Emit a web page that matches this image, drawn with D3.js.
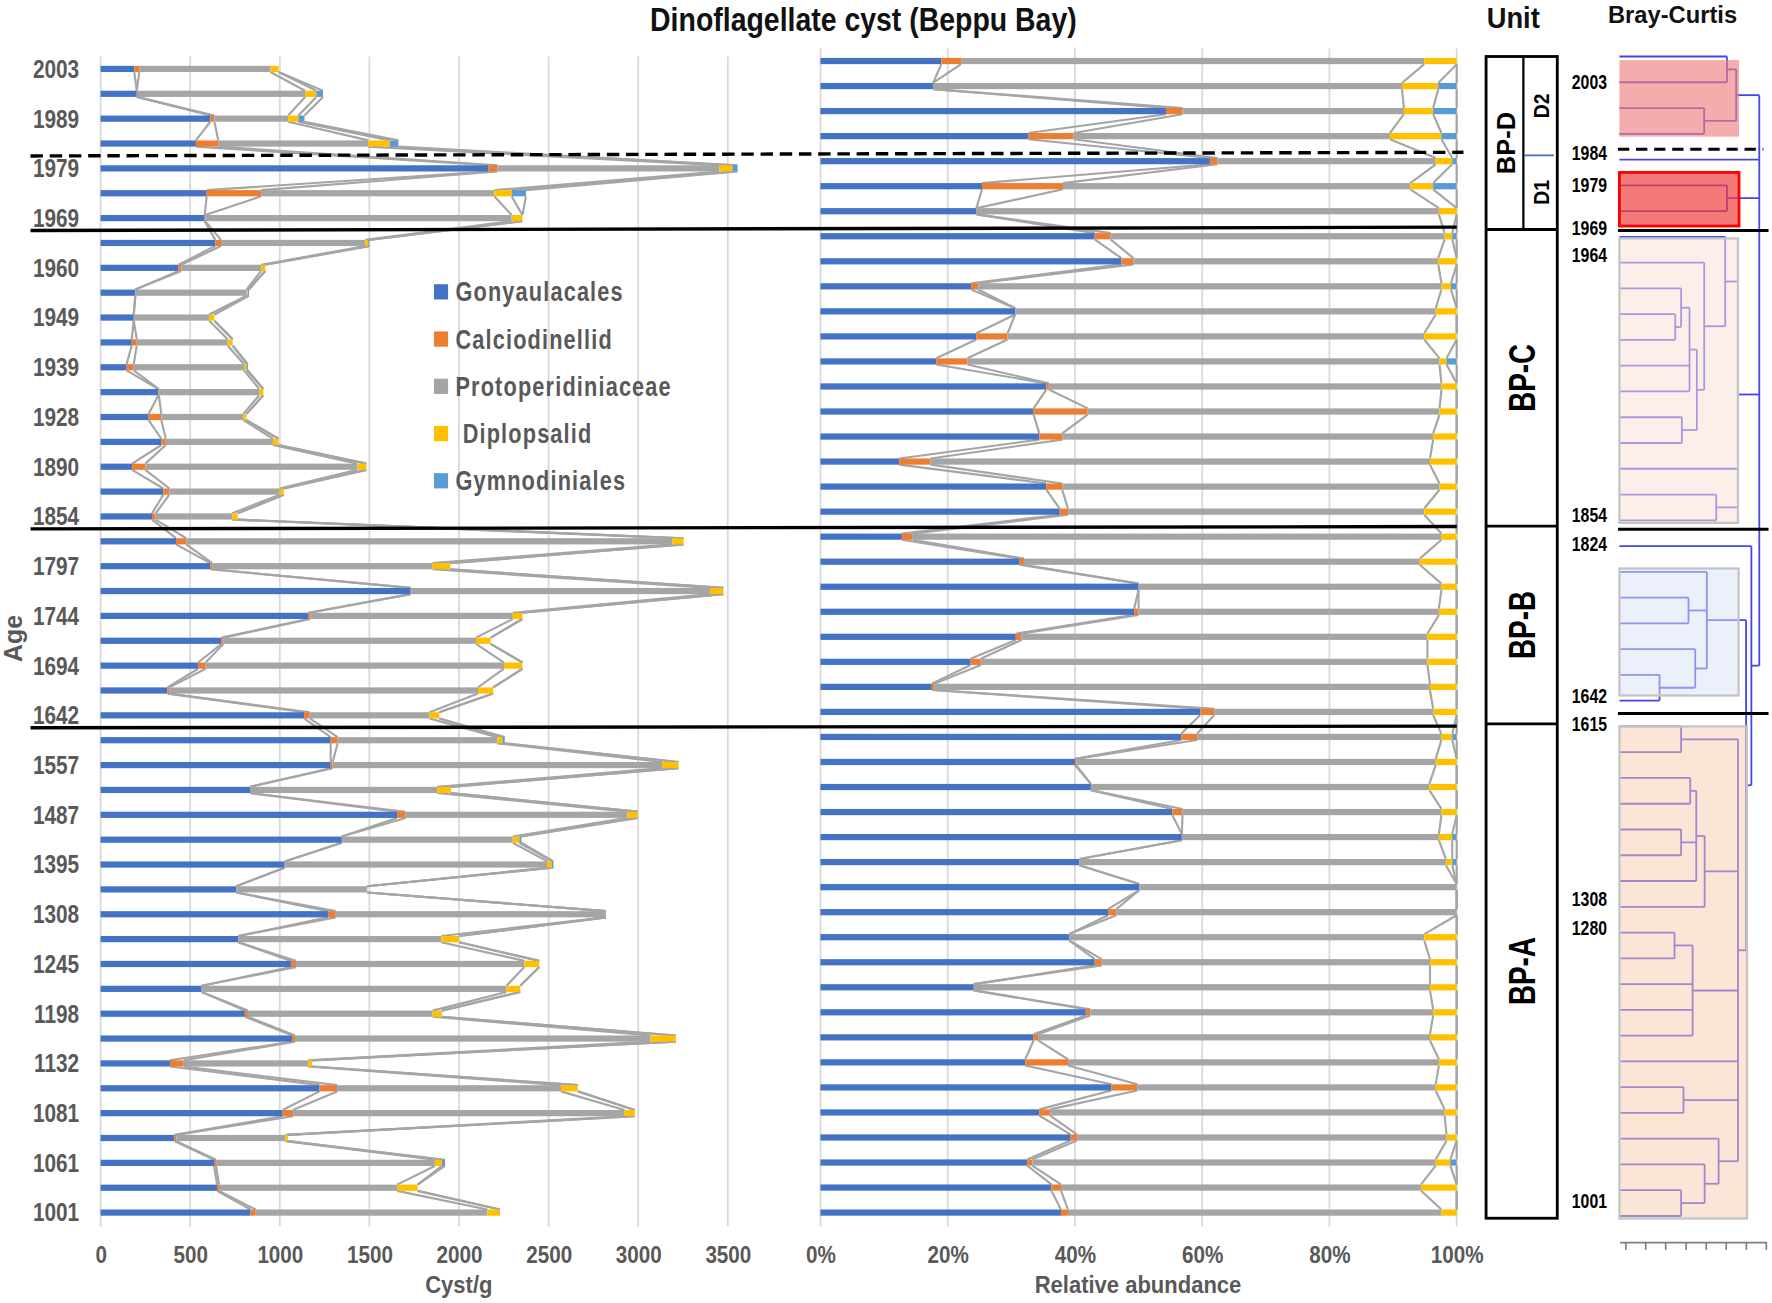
<!DOCTYPE html>
<html><head><meta charset="utf-8">
<script src="https://cdn.jsdelivr.net/npm/d3@7"></script>
<style>
html,body{margin:0;padding:0;background:#fff;}
svg{display:block;}
text{font-family:"Liberation Sans",Arial,Helvetica,sans-serif;font-weight:bold;}
</style></head><body>
<svg id="chart" width="1772" height="1303" viewBox="0 0 1568 1153"></svg>
<script>
// ---------------- DATA ----------------
const seriesNames = ["Gonyaulacales","Calciodinellid","Protoperidiniaceae","Diplopsalid","Gymnodiniales"];
const legendLabels = ["Gonyaulacales","Calciodinellid","Protoperidiniaceae"," Diplopsalid","Gymnodiniales"];
const ageLabels = ["2003","","1989","","1979","","1969","","1960","","1949","","1939","","1928","","1890","","1854","",
  "1797","","1744","","1694","","1642","","1557","","1487","","1395","","1308","","1245","","1198","","1132","",
  "1081","","1061","","1001"];
// Cyst/g
const gonyaulacales = [188,202,612,532,2163,592,581,640,435,194,185,174,145,322,268,339,176,350,287,421,612,1730,1158,675,544,373,1136,1284,1284,834,1654,1346,1027,757,1269,768,1062,564,805,1070,387,1221,1016,412,633,650,837];
const calciodinellid = [28,0,23,125,51,304,3,32,15,0,0,28,40,3,71,25,74,34,20,57,11,0,12,11,42,11,31,39,11,0,48,0,0,0,43,0,28,0,17,15,77,99,57,11,11,11,29];
const protoperidiniaceae = [732,939,412,837,1238,1301,1710,805,446,620,421,507,615,560,458,598,1182,615,427,2712,1230,1671,1130,1409,1665,1722,669,891,1838,1044,1238,954,1466,731,1508,1133,1275,1701,1031,1983,694,1249,1851,608,1221,994,1292];
const diplopsalid = [45,63,57,120,74,97,60,17,23,6,29,28,15,23,17,31,51,23,32,63,99,74,54,82,103,85,54,29,92,77,57,37,26,0,0,100,83,77,51,142,23,94,57,14,40,114,71];
const gymnodiniales = [0,37,34,48,29,80,0,6,0,8,0,0,7,0,0,0,0,0,0,0,0,0,0,0,0,0,0,12,0,0,0,11,8,0,0,0,0,0,0,0,0,0,0,0,17,0,0];
// Relative abundance (%)
const gonyPct = [19.0,17.7,54.3,32.7,61.2,25.4,24.5,43.1,47.3,23.7,30.6,24.5,18.2,35.5,33.5,34.4,12.4,35.5,37.6,12.8,31.3,50.0,49.3,30.7,23.6,17.5,59.7,56.7,40.0,42.5,55.3,56.8,40.7,50.1,45.2,39.1,43.1,24.1,41.7,33.5,32.2,45.7,34.4,39.3,32.5,36.3,37.8];
const calcPct = [3.1,0,2.6,7.1,1.2,12.7,0.1,2.5,1.9,1.1,0,4.9,4.9,0.4,8.5,3.6,4.9,2.5,1.3,1.7,0.7,0,0.7,0.9,1.6,0.4,2.2,2.5,0.2,0,1.6,0,0,0,1.3,0,1.1,0,0.7,0.7,6.7,4.1,1.7,1.0,0.8,1.5,1.1];
const protoPct = [72.8,73.7,34.8,49.7,34.3,54.6,72.6,52.5,47.9,72.8,66.1,65.5,74.2,61.7,55.3,58.3,78.5,59.3,56.0,83.1,62.2,47.6,47.2,63.8,70.2,77.9,34.4,38.4,56.5,53.2,40.7,40.4,57.6,49.9,53.5,55.8,51.6,71.7,53.9,61.6,58.3,46.9,62.0,58.1,63.4,56.6,58.7];
const diploPct = [5.1,5.7,4.6,8.1,2.6,3.6,2.8,1.2,2.9,1.5,3.3,5.1,1.1,2.4,2.7,3.7,4.2,2.7,5.1,2.4,5.8,2.4,2.8,4.6,4.6,4.2,3.7,1.7,3.3,4.3,2.4,2.1,1.0,0,0,5.1,4.2,4.2,3.7,4.2,2.8,3.3,1.9,1.6,2.3,5.6,2.4];
const gymnoPct = [0,2.9,3.7,2.4,0.7,3.7,0,0.7,0,0.9,0,0,1.6,0,0,0,0,0,0,0,0,0,0,0,0,0,0,0.7,0,0,0,0.7,0.7,0,0,0,0,0,0,0,0,0,0,0,1.0,0,0];
const cystTicks = [0,500,1000,1500,2000,2500,3000,3500];
const pctTicks = [0,20,40,60,80,100];
// Units (row ranges)
const unitNames = ["BP-D","BP-C","BP-B","BP-A"];
const unitFirstRow = [0,7,19,27];
const unitLastRow = [6,18,26,46];
const subUnitNames = ["D2","D1"];
const subUnitFirstRow = [0,4];
const subUnitLastRow = [3,6];
const boundaryRows = [3.5,6.5,18.5,26.5];
const boundaryDashed = [true,false,false,false];
// Bray-Curtis dendrogram: [height, ...children], leaves = sample index (0 = top)
const dendroTree = [0.952,
  [0.795,[0.732,0,1],[0.577,2,3]],
  4,
  [0.732,5,6],
  [0.807,[0.720,7,[0.577,8,[0.527,[0.477,[0.420,9,[0.380,10,11]],12,13],[0.425,14,15]]]],16,[0.659,17,18]],
  [0.898,19,[0.862,
    [0.595,20,[0.470,21,22],[0.516,23,[0.273,24,25]]],
    [0.807,
      [0.420,26,27],
      [0.580,[0.523,[0.482,28,29],[0.420,30,31],32],33],
      [0.498,[0.375,34,35],36,37,38],
      39,
      [0.436,40,41],
      [0.675,42,[0.580,43,[0.420,44,45]]]]]]
];
const dendroLabels = ["2003","1984","1979","1969","1964","1854","1824","1642","1615","1308","1280","1001"];
const dendroLabelLeaf = [1,3.75,5,6.64,7.7,17.8,18.9,24.8,25.9,32.7,33.8,44.4];
const dendroTicks = [0.04,0.175,0.311,0.45,0.587,0.723,0.86,0.996];
const dendroBoundaryLeaf = [3.6,6.75,18.35,25.5];
const clusterFirstLeaf = [0.14,4.5,7.06,19.87,26.0];
const clusterLastLeaf = [3.11,6.58,18.1,24.8,45.1];
const clusterHeight = [0.814,0.814,0.807,0.811,0.868];

// ---------------- STYLE ----------------
const seriesColors = ["#4472C4","#ED7D31","#A5A5A5","#FFC000","#5B9BD5"];
const clusterFill = ["#f08080","#f04040","#fae0d6","#d8e2f5","#f8cbad"];
const clusterOpacity = [0.65,0.7,0.55,0.5,0.5];
const clusterStroke = ["none","#ff0000","#c4c4c4","#c4c4c4","#c4c4c4"];
const clusterStrokeW = [0,2.5,2,2,2];
const gridColor = "#d9d9d9";
const txtGray = "#595959";
const BH = 5.5;

const svg = d3.select("#chart");
const nRows = ageLabels.length;

// horizontally condense text (narrow face look)
function narrow(sel, f){
  sel.each(function(){
    const t = d3.select(this);
    const x = +t.attr("x") || 0, y = +t.attr("y") || 0;
    const tr = t.attr("transform") || "";
    t.attr("x",0).attr("y",0).attr("transform", `${tr} translate(${x},${y}) scale(${f},1)`);
  });
}

// ---------------- SCALES ----------------
const xL = d3.scaleLinear().domain([0,3500]).range([89,644]);
const yL = d3.scaleLinear().domain([0,nRows-1]).range([61,1073]);
const xR = d3.scaleLinear().domain([0,100]).range([726,1289]);
const yR = d3.scaleLinear().domain([0,nRows-1]).range([54,1073]);

const absRows = ageLabels.map((a,i)=>({Gonyaulacales:gonyaulacales[i],Calciodinellid:calciodinellid[i],Protoperidiniaceae:protoperidiniaceae[i],Diplopsalid:diplopsalid[i],Gymnodiniales:gymnodiniales[i]}));
const pctRows = ageLabels.map((a,i)=>({Gonyaulacales:gonyPct[i],Calciodinellid:calcPct[i],Protoperidiniaceae:protoPct[i],Diplopsalid:diploPct[i],Gymnodiniales:gymnoPct[i]}));
const stack = d3.stack().keys(seriesNames);

function panel(rows, x, y, ticks, fmt, gridTop, title, titleX) {
  const g = svg.append("g");
  g.selectAll("line.grid").data(ticks).join("line")
    .attr("x1",d=>x(d)).attr("x2",d=>x(d)).attr("y1",gridTop).attr("y2",1085)
    .attr("stroke",gridColor).attr("stroke-width",1.6);
  const layers = stack(rows);
  layers.forEach((layer,k)=>{
    const segs = d3.range(nRows-1).map(i=>[layer[i][1],layer[i+1][1],i]);
    g.append("g").selectAll("line").data(segs).join("line")
      .attr("x1",d=>x(d[0])).attr("y1",d=>y(d[2])+BH/2)
      .attr("x2",d=>x(d[1])).attr("y2",d=>y(d[2]+1)-BH/2)
      .attr("stroke","#a5a5a5").attr("stroke-width",1.9);
  });
  layers.forEach((layer,k)=>{
    g.append("g").attr("fill",seriesColors[k]).selectAll("rect")
      .data(layer.map((d,i)=>({d0:d[0],d1:d[1],i})).filter(d=>d.d1>d.d0))
      .join("rect")
      .attr("x",d=>x(d.d0)).attr("width",d=>x(d.d1)-x(d.d0))
      .attr("y",d=>y(d.i)-BH/2).attr("height",BH);
  });
  const ax = g.append("g").attr("transform","translate(0,1103)")
    .call(d3.axisBottom(x).tickValues(ticks).tickFormat(fmt).tickSize(0).tickPadding(0));
  ax.select(".domain").remove();
  const tt = ax.selectAll("text").style("font-size","21px").attr("fill",txtGray);
  narrow(tt, 0.87);
  const ti = g.append("text").attr("x",titleX).attr("y",1144).attr("text-anchor","middle")
    .style("font-size","20.5px").attr("fill",txtGray).text(title);
  narrow(ti, 0.95);
}
panel(absRows, xL, yL, cystTicks, d=>d, 50, "Cyst/g", 406);
panel(pctRows, xR, yR, pctTicks, d=>d+"%", 43, "Relative abundance", 1007);

// y axis (ages)
const ay = svg.append("g").attr("transform",`translate(${xL(0)},0)`)
  .call(d3.axisLeft(yL).tickValues(d3.range(nRows).filter(i=>ageLabels[i])).tickFormat(i=>ageLabels[i]).tickSize(0).tickPadding(19));
ay.select(".domain").remove();
narrow(ay.selectAll("text").style("font-size","23px").attr("fill",txtGray), 0.8);
narrow(svg.append("text").attr("transform","translate(12,565) rotate(-90)").attr("dy","0.35em")
  .attr("text-anchor","middle").style("font-size","22px").attr("fill",txtGray).text("Age"), 1.0);

// legend
const leg = svg.append("g");
seriesNames.forEach((s,k)=>{
  const cy = 258 + k*41.8;
  leg.append("rect").attr("x",384).attr("y",cy-6.5).attr("width",12.5).attr("height",13.5).attr("fill",seriesColors[k]);
  narrow(leg.append("text").attr("x",403).attr("y",cy).attr("dy","0.36em").style("font-size","24px")
    .style("letter-spacing","1.3px").style("white-space","pre").attr("fill",txtGray).text(legendLabels[k]), 0.8);
});

// titles
narrow(svg.append("text").attr("x",764).attr("y",27).attr("text-anchor","middle").style("font-size","28.6px").attr("fill","#111").text("Dinoflagellate cyst (Beppu Bay)"), 0.88);
narrow(svg.append("text").attr("x",1339).attr("y",25).attr("text-anchor","middle").style("font-size","26px").attr("fill","#111").text("Unit"), 0.93);
svg.append("text").attr("x",1480).attr("y",20.5).attr("text-anchor","middle").style("font-size","21px").attr("fill","#111").text("Bray-Curtis");

// separator lines across panels
boundaryRows.forEach((b,k)=>{
  svg.append("line").attr("x1",27).attr("y1",yL(b)).attr("x2",boundaryDashed[k]?1295:xR(100)).attr("y2",(yL(b)+yR(b))/2)
    .attr("stroke","#000").attr("stroke-width",3).attr("stroke-dasharray",boundaryDashed[k]?"11,6":null);
});

// ---------------- UNIT COLUMN ----------------
const yU = d3.scaleLinear().domain([-0.5,nRows-0.5]).range([50,1078]);
const ux0 = 1315, ux1 = 1378, uxm = 1348;
const ug = svg.append("g");
ug.append("rect").attr("x",ux0).attr("y",yU(-0.5)).attr("width",ux1-ux0).attr("height",yU(nRows-0.5)-yU(-0.5))
  .attr("fill","none").attr("stroke","#000").attr("stroke-width",2.5);
unitLastRow.slice(0,-1).forEach(r=>{
  ug.append("line").attr("x1",ux0).attr("x2",ux1).attr("y1",yU(r+0.5)).attr("y2",yU(r+0.5)).attr("stroke","#000").attr("stroke-width",2.5);
});
ug.append("line").attr("x1",uxm).attr("x2",uxm).attr("y1",yU(unitFirstRow[0]-0.5)).attr("y2",yU(unitLastRow[0]+0.5)).attr("stroke","#000").attr("stroke-width",2);
ug.append("line").attr("x1",uxm+1).attr("x2",ux1-3).attr("y1",yU(subUnitLastRow[0]+0.5)).attr("y2",yU(subUnitLastRow[0]+0.5)).attr("stroke","#4472C4").attr("stroke-width",1.6);
unitNames.forEach((u,k)=>{
  const cx = k===0 ? (ux0+uxm)/2+1 : (ux0+ux1)/2;
  const cy = yU((unitFirstRow[k]+unitLastRow[k])/2);
  narrow(ug.append("text").attr("transform",`translate(${cx},${cy}) rotate(-90)`).attr("dy","0.36em").attr("text-anchor","middle")
    .style("font-size",k===0?"23px":"32px").attr("fill","#000").text(u), k===0?0.98:0.77);
});
subUnitNames.forEach((u,k)=>{
  const cy = yU((subUnitFirstRow[k]+subUnitLastRow[k])/2);
  narrow(ug.append("text").attr("transform",`translate(${(uxm+ux1)/2+1},${cy}) rotate(-90)`).attr("dy","0.36em").attr("text-anchor","middle")
    .style("font-size","19px").attr("fill","#000").text(u), 0.9);
});

// ---------------- DENDROGRAM ----------------
const xD = d3.scaleLinear().domain([0,1]).range([1433,1563]);
const yD = d3.scaleLinear().domain([0,45]).range([50,1076]);
const dg = svg.append("g");
const segs = [];
function layout(node){
  if (typeof node === "number") return {x:xD(0), y:yD(node)};
  const h = node[0];
  const kids = node.slice(1).map(layout);
  const x = xD(h);
  const ys = kids.map(k=>k.y);
  const y0 = d3.min(ys), y1 = d3.max(ys);
  kids.forEach(k=>segs.push([k.x,k.y,x,k.y]));
  segs.push([x,y0,x,y1]);
  return {x, y:(y0+y1)/2};
}
layout(dendroTree);
dg.selectAll("line").data(segs).join("line")
  .attr("x1",d=>d[0]).attr("y1",d=>d[1]).attr("x2",d=>d[2]).attr("y2",d=>d[3])
  .attr("stroke","#4646e6").attr("stroke-width",1.6);
clusterFirstLeaf.forEach((f,k)=>{
  dg.append("rect").attr("x",xD(0)).attr("y",yD(f)).attr("width",xD(clusterHeight[k])-xD(0)).attr("height",yD(clusterLastLeaf[k])-yD(f))
    .attr("fill",clusterFill[k]).attr("fill-opacity",clusterOpacity[k])
    .attr("stroke",clusterStroke[k]).attr("stroke-width",clusterStrokeW[k]);
});
dendroBoundaryLeaf.forEach((b,k)=>{
  dg.append("line").attr("x1",xD(-0.01)).attr("x2",xD(k===0?0.98:1.015)).attr("y1",yD(b)).attr("y2",yD(b))
    .attr("stroke","#000").attr("stroke-width",2.6).attr("stroke-dasharray",k===0?"10,6":null);
});
dendroLabels.forEach((l,k)=>{
  narrow(dg.append("text").attr("x",1422).attr("y",yD(dendroLabelLeaf[k])).attr("dy","0.36em").attr("text-anchor","end")
    .style("font-size","17.5px").attr("fill","#000").text(l), 0.8);
});
const dax = dg.append("g").attr("transform","translate(0,1099)")
  .call(d3.axisBottom(xD).tickValues(dendroTicks).tickFormat("").tickSizeInner(7).tickSizeOuter(0));
dax.selectAll("path,line").attr("stroke","#808080").attr("stroke-width",1.5);
</script>
</body></html>
